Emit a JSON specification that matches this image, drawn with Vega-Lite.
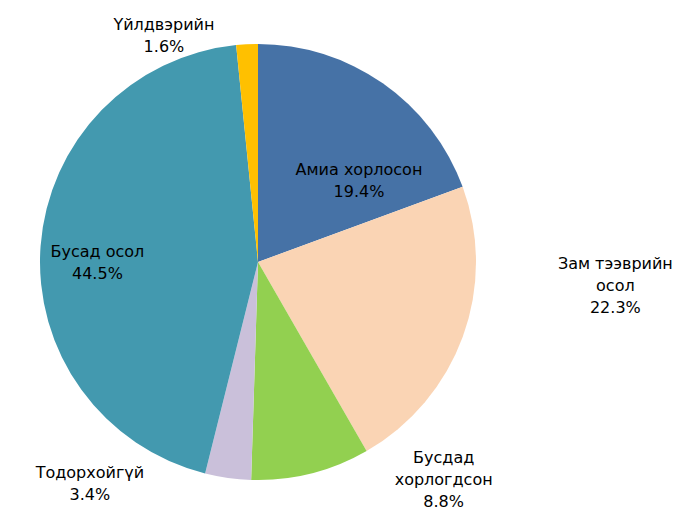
{
  "$schema": "https://vega.github.io/schema/vega-lite/v6.json",
  "autosize": {"type": "none"},
  "width": 516,
  "height": 524,
  "padding": {"left": 0, "top": 0, "right": 177, "bottom": 0},
  "background": "white",
  "view": {"stroke": null},
  "config": {"text": {"font": "DejaVu Sans", "fontSize": 16, "lineBreak": "\n", "lineHeight": 22, "fill": "#000000"}},
  "data": {"values": [
    {"ord": 1, "cat": "Амиа хорлосон", "pct": 19.4, "label": "Амиа хорлосон\n19.4%"},
    {"ord": 2, "cat": "Зам тээврийн осол", "pct": 22.3, "label": "Зам тээврийн\nосол\n22.3%"},
    {"ord": 3, "cat": "Бусдад хорлогдсон", "pct": 8.8, "label": "Бусдад\nхорлогдсон\n8.8%"},
    {"ord": 4, "cat": "Тодорхойгүй", "pct": 3.4, "label": "Тодорхойгүй\n3.4%"},
    {"ord": 5, "cat": "Бусад осол", "pct": 44.5, "label": "Бусад осол\n44.5%"},
    {"ord": 6, "cat": "Үйлдвэрийн", "pct": 1.6, "label": "Үйлдвэрийн\n1.6%"}
  ]},
  "encoding": {
    "theta": {"field": "pct", "type": "quantitative", "stack": true},
    "order": {"field": "ord", "type": "quantitative"}
  },
  "layer": [
    {
      "mark": {"type": "arc", "radius": 218},
      "encoding": {
        "color": {
          "field": "cat", "type": "nominal", "legend": null,
          "scale": {
            "domain": ["Амиа хорлосон", "Зам тээврийн осол", "Бусдад хорлогдсон", "Тодорхойгүй", "Бусад осол", "Үйлдвэрийн"],
            "range": ["#4672A6", "#FAD4B4", "#92D050", "#CAC0DA", "#4399AF", "#FFC000"]
          }
        }
      }
    },
    {
      "mark": {"type": "text", "radius": 124, "dx": 30, "dy": 10},
      "encoding": {"text": {"condition": {"test": "datum.cat === 'Амиа хорлосон'", "field": "label"}, "value": ""}}
    },
    {
      "mark": {"type": "text", "radius": 161, "dx": 0, "dy": 2},
      "encoding": {"text": {"condition": {"test": "datum.cat === 'Бусад осол'", "field": "label"}, "value": ""}}
    },
    {
      "mark": {"type": "text", "radius": 240, "dx": -82, "dy": 3},
      "encoding": {"text": {"condition": {"test": "datum.cat === 'Үйлдвэрийн'", "field": "label"}, "value": ""}}
    },
    {
      "mark": {"type": "text", "radius": 260, "dx": 113, "dy": -87},
      "encoding": {"text": {"condition": {"test": "datum.cat === 'Зам тээврийн осол'", "field": "label"}, "value": ""}}
    },
    {
      "mark": {"type": "text", "radius": 250, "dx": 125, "dy": -47},
      "encoding": {"text": {"condition": {"test": "datum.cat === 'Бусдад хорлогдсон'", "field": "label"}, "value": ""}}
    },
    {
      "mark": {"type": "text", "radius": 240, "dx": -135, "dy": -27},
      "encoding": {"text": {"condition": {"test": "datum.cat === 'Тодорхойгүй'", "field": "label"}, "value": ""}}
    }
  ]
}
